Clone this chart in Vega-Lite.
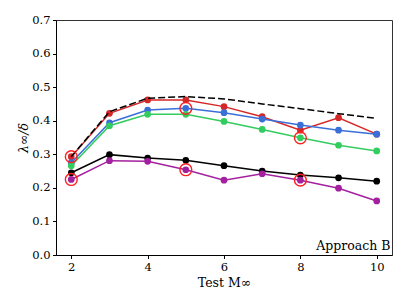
{
  "$schema": "https://vega.github.io/schema/vega-lite/v6.json",
  "width": 336,
  "height": 235,
  "autosize": {"type": "none"},
  "padding": {"left": 56, "top": 20, "right": 15, "bottom": 50},
  "config": {
    "font": "DejaVu Serif",
    "view": {"stroke": "#333333", "strokeWidth": 1},
    "axis": {
      "grid": false,
      "domainColor": "#000000",
      "tickColor": "#000000",
      "labelColor": "#000000",
      "titleColor": "#000000",
      "tickSize": 3.5,
      "labelFontSize": 11.5,
      "titleFontSize": 12.5,
      "titleFontWeight": "normal",
      "labelPadding": 2.5,
      "labelOverlap": false,
      "labelBound": false
    }
  },
  "datasets": {
    "lines": [
      {"series": "red", "x": 2, "y": 0.293}, {"series": "red", "x": 3, "y": 0.422}, {"series": "red", "x": 4, "y": 0.462}, {"series": "red", "x": 5, "y": 0.462}, {"series": "red", "x": 6, "y": 0.442}, {"series": "red", "x": 7, "y": 0.412}, {"series": "red", "x": 8, "y": 0.372}, {"series": "red", "x": 9, "y": 0.409}, {"series": "red", "x": 10, "y": 0.360},
      {"series": "blue", "x": 2, "y": 0.275}, {"series": "blue", "x": 3, "y": 0.394}, {"series": "blue", "x": 4, "y": 0.432}, {"series": "blue", "x": 5, "y": 0.437}, {"series": "blue", "x": 6, "y": 0.424}, {"series": "blue", "x": 7, "y": 0.405}, {"series": "blue", "x": 8, "y": 0.387}, {"series": "blue", "x": 9, "y": 0.372}, {"series": "blue", "x": 10, "y": 0.360},
      {"series": "green", "x": 2, "y": 0.266}, {"series": "green", "x": 3, "y": 0.385}, {"series": "green", "x": 4, "y": 0.419}, {"series": "green", "x": 5, "y": 0.419}, {"series": "green", "x": 6, "y": 0.398}, {"series": "green", "x": 7, "y": 0.374}, {"series": "green", "x": 8, "y": 0.349}, {"series": "green", "x": 9, "y": 0.327}, {"series": "green", "x": 10, "y": 0.310},
      {"series": "black", "x": 2, "y": 0.245}, {"series": "black", "x": 3, "y": 0.299}, {"series": "black", "x": 4, "y": 0.289}, {"series": "black", "x": 5, "y": 0.282}, {"series": "black", "x": 6, "y": 0.266}, {"series": "black", "x": 7, "y": 0.250}, {"series": "black", "x": 8, "y": 0.238}, {"series": "black", "x": 9, "y": 0.230}, {"series": "black", "x": 10, "y": 0.220},
      {"series": "purple", "x": 2, "y": 0.225}, {"series": "purple", "x": 3, "y": 0.281}, {"series": "purple", "x": 4, "y": 0.279}, {"series": "purple", "x": 5, "y": 0.254}, {"series": "purple", "x": 6, "y": 0.223}, {"series": "purple", "x": 7, "y": 0.242}, {"series": "purple", "x": 8, "y": 0.223}, {"series": "purple", "x": 9, "y": 0.199}, {"series": "purple", "x": 10, "y": 0.161}
    ],
    "dashed": [
      {"x": 2, "y": 0.293}, {"x": 3, "y": 0.427}, {"x": 4, "y": 0.467}, {"x": 5, "y": 0.472}, {"x": 6, "y": 0.465}, {"x": 7, "y": 0.450}, {"x": 8, "y": 0.436}, {"x": 9, "y": 0.421}, {"x": 10, "y": 0.407}
    ],
    "highlight": [
      {"x": 2, "y": 0.293}, {"x": 2, "y": 0.225}, {"x": 5, "y": 0.437}, {"x": 5, "y": 0.254}, {"x": 8, "y": 0.349}, {"x": 8, "y": 0.223}
    ],
    "label": [
      {"x": 10.36, "y": 0.006, "text": "Approach B"}
    ]
  },
  "encoding": {
    "x": {"field": "x", "type": "quantitative", "scale": {"domain": [1.6, 10.4], "nice": false, "zero": false},
          "axis": {"values": [2, 4, 6, 8, 10], "title": "Test M∞", "titlePadding": 4}},
    "y": {"field": "y", "type": "quantitative", "scale": {"domain": [0, 0.7001], "nice": false},
          "axis": {"values": [0, 0.1, 0.2, 0.3, 0.4, 0.5, 0.6, 0.7], "format": ".1f", "title": "λ∞/δ", "titleFontStyle": "italic", "titlePadding": 1}}
  },
  "layer": [
    {
      "data": {"name": "lines"},
      "mark": {"type": "line", "strokeWidth": 1.5, "point": {"filled": true, "size": 45, "opacity": 1}},
      "encoding": {
        "color": {"field": "series", "type": "nominal",
                  "scale": {"domain": ["red", "blue", "green", "black", "purple"], "range": ["#d62728", "#3a6fd8", "#33cc5f", "#000000", "#a3209f"]},
                  "legend": null},
        "order": {"field": "x"}
      }
    },
    {
      "data": {"name": "dashed"},
      "mark": {"type": "line", "color": "#000000", "strokeWidth": 1.5, "strokeDash": [7, 3]},
      "encoding": {}
    },
    {
      "data": {"name": "highlight"},
      "mark": {"type": "point", "filled": false, "stroke": "#ff2020", "strokeWidth": 1.4, "size": 140, "opacity": 1},
      "encoding": {}
    },
    {
      "data": {"name": "label"},
      "mark": {"type": "text", "align": "right", "baseline": "bottom", "fontSize": 12.5, "color": "#000000"},
      "encoding": {
        "text": {"field": "text"}
      }
    }
  ]
}
